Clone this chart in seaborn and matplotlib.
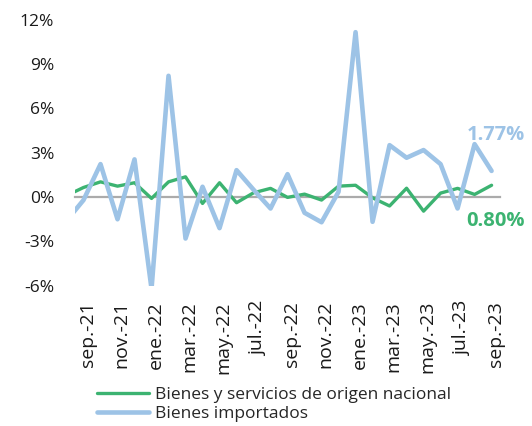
import numpy as np
import pandas as pd
import seaborn as sns
import matplotlib.pyplot as plt
from matplotlib.transforms import ScaledTranslation

# Meses (el primero, ago.-21, queda fuera del área visible como en el original)
meses = ["ago.-21", "sep.-21", "oct.-21", "nov.-21", "dic.-21", "ene.-22", "feb.-22",
         "mar.-22", "abr.-22", "may.-22", "jun.-22", "jul.-22", "ago.-22", "sep.-22",
         "oct.-22", "nov.-22", "dic.-22", "ene.-23", "feb.-23", "mar.-23", "abr.-23",
         "may.-23", "jun.-23", "jul.-23", "ago.-23", "sep.-23"]

nacional = [0.10, 0.65, 1.03, 0.74, 0.97, -0.09, 1.03, 1.37, -0.43, 0.97, -0.38,
            0.29, 0.59, -0.02, 0.20, -0.20, 0.74, 0.80, -0.05, -0.60, 0.60, -0.95,
            0.27, 0.59, 0.18, 0.80]
importados = [-1.60, -0.20, 2.23, -1.50, 2.55, -6.20, 8.20, -2.80, 0.70, -2.10, 1.82,
              0.50, -0.77, 1.55, -1.06, -1.70, 0.36, 11.15, -1.67, 3.51, 2.66, 3.18,
              2.23, -0.77, 3.58, 1.77]

serie_nac = "Bienes y servicios de origen nacional"
serie_imp = "Bienes importados"
colores = {serie_nac: "#3cb371", serie_imp: "#9dc3e6"}

pos = np.arange(len(meses))
df = pd.concat([
    pd.DataFrame({"pos": pos, "mes": meses, "valor": nacional, "serie": serie_nac}),
    pd.DataFrame({"pos": pos, "mes": meses, "valor": importados, "serie": serie_imp}),
])

sns.set_style("white")
plt.rcParams["font.family"] = ["Open Sans", "DejaVu Sans"]

fig = plt.figure(figsize=(5.32, 4.26), dpi=100)
ax = fig.add_axes([0.141, 0.329, 0.799, 0.625])

sns.lineplot(data=df[df["serie"] == serie_nac], x="pos", y="valor", color=colores[serie_nac],
             linewidth=2.4, ax=ax, label=serie_nac, zorder=3)
sns.lineplot(data=df[df["serie"] == serie_imp], x="pos", y="valor", color=colores[serie_imp],
             linewidth=3.3, ax=ax, label=serie_imp, zorder=4)

ax.set_xlim(0.5, len(meses) - 0.5)
ax.set_ylim(-6, 12)
ax.set_xlabel("")
ax.set_ylabel("")

# eje Y
yt = np.arange(-6, 13, 3)
ax.set_yticks(yt)
ax.set_yticklabels([f"{v}%" for v in yt], fontsize=12.5, color="#1a1a1a")
ax.tick_params(axis="y", length=0, pad=15)

# eje X sobre el cero, con marcas cada dos meses
for s in ["top", "right", "left"]:
    ax.spines[s].set_visible(False)
ax.spines["bottom"].set_position(("data", 0))
ax.spines["bottom"].set_color("#ababab")
ax.spines["bottom"].set_linewidth(1.6)
ax.spines["bottom"].set_zorder(1)
ax.set_xticks(np.arange(0.5, len(meses) - 1, 2))
ax.tick_params(axis="x", direction="out", length=5, width=1.5, color="#ababab",
               labelbottom=False)

# etiquetas de meses debajo del área de trazado
sec = ax.secondary_xaxis("bottom")
sec.set_xticks(pos[1::2])
sec.set_xticklabels(meses[1::2], rotation=90, fontsize=14, color="#1a1a1a")
sec.tick_params(length=0, pad=11)
sec.spines["bottom"].set_visible(False)
desplaza = ScaledTranslation(3 / 72, 0, fig.dpi_scale_trans)
for lbl in sec.get_xticklabels():
    lbl.set_transform(lbl.get_transform() + desplaza)

# etiquetas del último dato
ax.annotate(f"{importados[-1]:.2f}%", xy=(pos[-1], importados[-1]), xytext=(-18, 26),
            textcoords="offset points", ha="left", va="center", fontsize=14.5,
            fontweight="bold", color=colores[serie_imp], annotation_clip=False)
ax.annotate(f"{nacional[-1]:.2f}%", xy=(pos[-1], nacional[-1]), xytext=(-18, -26),
            textcoords="offset points", ha="left", va="center", fontsize=14.5,
            fontweight="bold", color=colores[serie_nac], annotation_clip=False)

ax.get_legend().remove()
h, l = ax.get_legend_handles_labels()
fig.legend(h, l, loc="upper left", bbox_to_anchor=(0.183, 0.092), frameon=False,
           fontsize=12.5, handlelength=3.0, handletextpad=0.3, labelspacing=0.15,
           borderpad=0, borderaxespad=0)

fig.savefig("out.png", dpi=100)
